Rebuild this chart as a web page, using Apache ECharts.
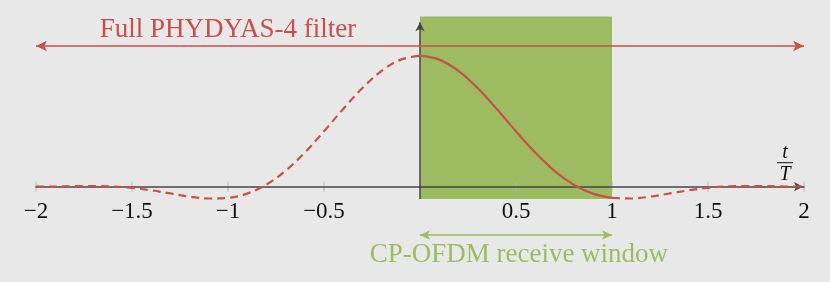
<!DOCTYPE html>
<html>
<head>
<meta charset="utf-8">
<script src="https://cdn.jsdelivr.net/npm/echarts@6/dist/echarts.min.js"></script>
<style>
html,body{margin:0;padding:0;background:#e8e8e8;}
#c{width:830px;height:282px;}
</style>
</head>
<body>
<div id="c"></div>
<script>
// ---- data ----
const times = [-2,-1.9,-1.8,-1.7,-1.6,-1.5,-1.4,-1.3,-1.2,-1.1,-1,-0.9,-0.8,-0.7,-0.6,-0.5,-0.4,-0.3,-0.2,-0.1,
  0,0.1,0.2,0.3,0.4,0.5,0.6,0.7,0.8,0.9,1,1.1,1.2,1.3,1.4,1.5,1.6,1.7,1.8,1.9,2];
const filterVals = [0,0.0012,0.0039,0.0053,0.0020,-0.0087,-0.0274,-0.0516,-0.0755,-0.0902,-0.0858,-0.0527,0.0158,0.1215,0.2606,0.4229,0.5932,0.7532,0.8842,0.9701,
  1.0,0.9701,0.8842,0.7532,0.5932,0.4229,0.2606,0.1215,0.0158,-0.0527,-0.0858,-0.0902,-0.0755,-0.0516,-0.0274,-0.0087,0.0020,0.0053,0.0039,0.0012,0];
const tickVals = [-2,-1.5,-1,-0.5,0.5,1,1.5,2];
const windowStart = 0, windowEnd = 1;
const filterStart = -2, filterEnd = 2;
const filterLabel = 'Full PHYDYAS-4 filter';
const windowLabel = 'CP-OFDM receive window';

const RED = '#c8504a', GREEN = '#9dbb61', AXIS = '#454545';
const FONT = 'Liberation Serif';

const pts = times.map((t,i)=>[t, filterVals[i]]);
const leftPts = pts.filter(p=>p[0] <= windowStart);
const midPts = pts.filter(p=>p[0] >= windowStart && p[0] <= windowEnd);
const rightPts = pts.filter(p=>p[0] >= windowEnd);

const Y_MIN = -0.6, Y_MAX = 1.3;
const GRID_TOP = 16.4, GRID_BOTTOM = 16.7;
const plotH = 282 - GRID_TOP - GRID_BOTTOM;
const zeroOffset = -plotH * (0 - Y_MIN) / (Y_MAX - Y_MIN);

const chart = echarts.init(document.getElementById('c'), null, {renderer:'canvas'});
const option = {
  backgroundColor: '#e8e8e8',
  animation: false,
  grid: {left: 36, right: 26, top: GRID_TOP, bottom: GRID_BOTTOM, containLabel: false, outerBoundsMode: 'none'},
  xAxis: {
    type: 'value', min: -2, max: 2, interval: 0.5, z: 4,
    position: 'bottom', offset: zeroOffset,
    axisLine: {onZero: false, lineStyle: {color: AXIS, width: 1.5}, symbol: ['none','arrow'], symbolSize: [7,9], symbolOffset: [0,-1]},
    axisTick: {show: false},
    splitLine: {show: false},
    axisLabel: {
      margin: 13.5, color: '#111', fontFamily: FONT, fontSize: 23,
      showMinLabel: true, showMaxLabel: true,
      formatter: v => (v === 0 ? '' : String(v).replace('-', '\u2212'))
    }
  },
  yAxis: {
    type: 'value', min: Y_MIN, max: Y_MAX,
    axisLine: {show: false}, axisTick: {show: false}, axisLabel: {show: false}, splitLine: {show: false}
  },
  series: [
    { // receive window rectangle
      type: 'line', data: [], z: 1, silent: true,
      markArea: {silent: true, itemStyle: {color: GREEN, opacity: 1},
        data: [[{coord: [windowStart, -0.094]}, {coord: [windowEnd, 1.303]}]]}
    },
    { // tick marks
      type: 'scatter', z: 3, silent: true,
      data: tickVals.map(v => [v, 0]),
      symbol: 'rect', symbolSize: [1.2, 10],
      itemStyle: {color: '#b4b4b4'}
    },
    { // y axis + arrows + labels
      type: 'line', data: [], z: 4, silent: true,
      markLine: {
        silent: true, animation: false,
        label: {show: false},
        data: [
          [{coord: [0, -0.094], symbol: 'none', lineStyle: {color: AXIS, width: 1.5, type: 'solid'}},
           {coord: [0, 1.255], symbol: 'arrow', symbolSize: [7,9]}],
          [{coord: [filterStart, 1.074], symbol: 'arrow', symbolSize: [8,11], lineStyle: {color: RED, width: 1.6, type: 'solid'}},
           {coord: [filterEnd, 1.074], symbol: 'arrow', symbolSize: [8,11]}],
          [{coord: [windowStart, -0.369], symbol: 'arrow', symbolSize: [7,10], lineStyle: {color: GREEN, width: 1.6, type: 'solid'}},
           {coord: [windowEnd, -0.369], symbol: 'arrow', symbolSize: [7,10]}]
        ]
      },
      markPoint: {
        silent: true, symbolSize: 0,
        data: [
          {coord: [-1, 1.195], label: {show: true, formatter: filterLabel, color: RED, fontFamily: FONT, fontSize: 27, position: 'inside'}},
          {coord: [0.515, -0.52], label: {show: true, formatter: windowLabel, color: GREEN, fontFamily: FONT, fontSize: 27, position: 'inside'}}
        ]
      }
    },
    { type: 'line', data: leftPts, smooth: 0.35, showSymbol: false, z: 5,
      lineStyle: {color: RED, width: 2.2, type: [8,5]} },
    { type: 'line', data: midPts, smooth: 0.35, showSymbol: false, z: 5,
      lineStyle: {color: RED, width: 2.2, type: 'solid'} },
    { type: 'line', data: rightPts, smooth: 0.35, showSymbol: false, z: 5,
      lineStyle: {color: RED, width: 2.2, type: [8,5]} }
  ],
  graphic: [
    {type: 'text', x: 785, y: 152.5, style: {text: 't', font: 'italic 20px "Liberation Serif"', fill: '#111', textAlign: 'center', textVerticalAlign: 'middle'}},
    {type: 'line', shape: {x1: 777, y1: 162.7, x2: 793, y2: 162.7}, style: {stroke: '#111', lineWidth: 1}},
    {type: 'text', x: 785, y: 174.5, style: {text: 'T', font: 'italic 20px "Liberation Serif"', fill: '#111', textAlign: 'center', textVerticalAlign: 'middle'}}
  ]
};
chart.setOption(option);
</script>
</body>
</html>
